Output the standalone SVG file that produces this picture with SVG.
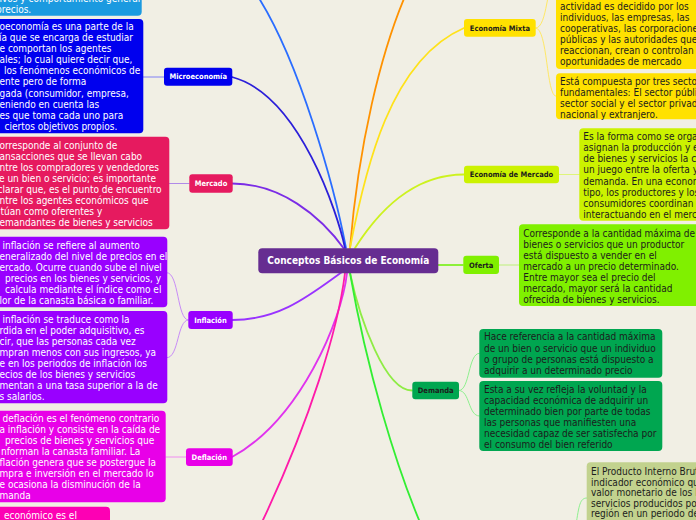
<svg xmlns="http://www.w3.org/2000/svg" width="696" height="520" viewBox="0 0 696 520">
<style>
.t{font-family:"DejaVu Sans Condensed","DejaVu Sans",sans-serif;font-stretch:condensed;font-size:10px}
.w{fill:#ffffff}
.d{fill:#1c1c1c}
.lb{font-family:"DejaVu Sans Condensed","DejaVu Sans",sans-serif;font-stretch:condensed;font-weight:bold;font-size:7.5px;text-anchor:middle}
.ct{font-family:"DejaVu Sans Condensed","DejaVu Sans",sans-serif;font-stretch:condensed;font-weight:bold;font-size:10px;text-anchor:middle;fill:#ffffff}
.c{fill:none;stroke-linecap:round}
.m{stroke-width:1.8}
.s{stroke-width:1}
</style>
<rect x="0" y="0" width="696" height="520" fill="#f1efe4"/>
<g id="connectors">
<path class="c m" stroke="#2a6dff" d="M346,248 C335,190 300,60 255,-8"/>
<path class="c m" stroke="#2b1fd9" d="M345,248 C338,215 300,95 232,77"/>
<path class="c m" stroke="#7b2ce6" d="M345,250 C320,215 280,183.5 232,183.5"/>
<path class="c m" stroke="#9933ff" d="M342,272 C310,295 280,320 232,320"/>
<path class="c m" stroke="#e033ee" d="M347,273 C342,320 300,420 232,457"/>
<path class="c m" stroke="#ff1aa9" d="M345,273 C338,330 310,420 263,520 L257,533"/>
<path class="c m" stroke="#ff9200" d="M350,248 C358,150 380,50 410,-15"/>
<path class="c m" stroke="#ffe21a" d="M350,248 C365,170 390,60 464,28"/>
<path class="c m" stroke="#cdf21f" d="M355,248 C378,212 412,174.5 464,174.5"/>
<path class="c m" stroke="#8df03a" d="M400,265 L463,265"/>
<path class="c m" stroke="#8fec45" d="M350,273 C360,320 385,390.5 412,390.5"/>
<path class="c m" stroke="#33ee33" d="M350,273 C365,360 395,470 430,545"/>
<path class="c s" stroke="#8080f5" d="M164,77 L143,77"/>
<path class="c s" stroke="#b08ae8" d="M189,183.5 L169,183.5"/>
<path class="c s" stroke="#c88cf7" d="M188.3,320 C177,320 179,272.7 167,272.7"/>
<path class="c s" stroke="#c88cf7" d="M188.3,320 C177,320 179,357.7 167,357.7"/>
<path class="c s" stroke="#f08cf0" d="M186,457 L165.7,457"/>
<path class="c s" stroke="#ffe866" d="M535.7,28 C548,28 546,-20 556,-20"/>
<path class="c s" stroke="#ffe866" d="M535.7,28 C548,28 546,96.3 556,96.3"/>
<path class="c s" stroke="#dff57a" d="M559,174.5 L579.3,174.5"/>
<path class="c s" stroke="#bdf07a" d="M499,265 L519,265"/>
<path class="c s" stroke="#8ef08e" d="M459,390.5 C470,390.5 468,353.3 479.3,353.3"/>
<path class="c s" stroke="#8ef08e" d="M459,390.5 C470,390.5 468,416 479.3,416"/>
<path class="c s" stroke="#8ef08e" d="M576,525 C579,505 580,498 586.7,498"/>
</g>
<g id="center">
<rect x="258.3" y="248.3" width="180" height="25" rx="4" fill="#662d91"/>
<text class="ct" x="348.3" y="264.3">Conceptos Básicos de Economía</text>
</g>
<g id="macro-detail">
<rect x="-10" y="-40" width="151.7" height="55.7" rx="4" fill="#1b9ae0"/>
<text class="t w" x="-0.5" y="1.5">ivos y comportamiento general</text>
<text class="t w" x="-4" y="12.5">precios.</text>
</g>
<g id="micro">
<rect x="164" y="67.7" width="68.3" height="18" rx="3" fill="#0000ee"/>
<text class="lb w" x="198.2" y="79.4">Microeconomía</text>
</g>
<g id="micro-detail">
<rect x="-10" y="19" width="153.3" height="114.3" rx="4" fill="#0000ee"/>
<text class="t w" x="-0.5" y="30.2">oeconomía es una parte de la</text>
<text class="t w" x="-1" y="41.25">ía que se encarga de estudiar</text>
<text class="t w" x="-0.5" y="52.3">e comportan los agentes</text>
<text class="t w" x="-0.5" y="63.35">ales; lo cual quiere decir que,</text>
<text class="t w" x="4" y="74.4">los fenómenos económicos de</text>
<text class="t w" x="-0.5" y="85.45">ente pero de forma</text>
<text class="t w" x="-0.5" y="96.5">gada (consumidor, empresa,</text>
<text class="t w" x="-0.5" y="107.55">eniendo en cuenta las</text>
<text class="t w" x="-0.5" y="118.6">es que toma cada uno para</text>
<text class="t w" x="4.5" y="129.65">ciertos objetivos propios.</text>
</g>
<g id="mercado">
<rect x="189.3" y="174.3" width="43.4" height="18.4" rx="3" fill="#e61a5f"/>
<text class="lb w" x="211" y="186.2">Mercado</text>
</g>
<g id="mercado-detail">
<rect x="-10" y="136.7" width="179.3" height="92.6" rx="4" fill="#e61a5f"/>
<text class="t w" x="-0.5" y="148.5">orresponde al conjunto de</text>
<text class="t w" x="-0.5" y="159.5">ansacciones que se llevan cabo</text>
<text class="t w" x="-0.5" y="170.5">ntre los compradores y vendedores</text>
<text class="t w" x="-1" y="181.5">e un bien o servicio; es importante</text>
<text class="t w" x="-2.5" y="192.5">clarar que, es el punto de encuentro</text>
<text class="t w" x="-0.5" y="203.5">ntre los agentes económicos que</text>
<text class="t w" x="0.5" y="214.5">túan como oferentes y</text>
<text class="t w" x="-0.5" y="225.5">emandantes de bienes y servicios</text>
</g>
<g id="inflacion">
<rect x="188.3" y="311" width="44.4" height="18" rx="3" fill="#9900ff"/>
<text class="lb w" x="210.5" y="322.7">Inflación</text>
</g>
<g id="inflacion-detail-1">
<rect x="-10" y="236.7" width="177.3" height="70.6" rx="4" fill="#9900ff"/>
<text class="t w" x="2.5" y="248.5">inflación se refiere al aumento</text>
<text class="t w" x="-0.5" y="259.5">eneralizado del nivel de precios en el</text>
<text class="t w" x="-0.5" y="270.5">ercado. Ocurre cuando sube el nivel</text>
<text class="t w" x="5" y="281.5">precios en los bienes y servicios, y</text>
<text class="t w" x="5" y="292.5">calcula mediante el índice como el</text>
<text class="t w" x="-0.5" y="303.5">lor de la canasta básica o familiar.</text>
</g>
<g id="inflacion-detail-2">
<rect x="-10" y="311" width="177.3" height="92.3" rx="4" fill="#9900ff"/>
<text class="t w" x="2.5" y="322.8">inflación se traduce como la</text>
<text class="t w" x="-0.5" y="333.76">rdida en el poder adquisitivo, es</text>
<text class="t w" x="-0.5" y="344.72">cir, que las personas cada vez</text>
<text class="t w" x="-0.5" y="355.68">mpran menos con sus ingresos, ya</text>
<text class="t w" x="-0.5" y="366.64">e en los periodos de inflación los</text>
<text class="t w" x="-0.5" y="377.6">ecios de los bienes y servicios</text>
<text class="t w" x="-0.5" y="388.56">mentan a una tasa superior a la de</text>
<text class="t w" x="-0.5" y="399.52">s salarios.</text>
</g>
<g id="deflacion">
<rect x="186" y="448.3" width="46.7" height="17.7" rx="3" fill="#e800e8"/>
<text class="lb w" x="209.3" y="459.8">Deflación</text>
</g>
<g id="deflacion-detail">
<rect x="-10" y="410.7" width="175.7" height="91.6" rx="4" fill="#e800e8"/>
<text class="t w" x="2.5" y="421.8">deflación es el fenómeno contrario</text>
<text class="t w" x="-0.5" y="432.86">a inflación y consiste en la caída de</text>
<text class="t w" x="5" y="443.92">precios de bienes y servicios que</text>
<text class="t w" x="1" y="454.98">nforman la canasta familiar. La</text>
<text class="t w" x="-0.5" y="466.04">flación genera que se postergue la</text>
<text class="t w" x="-0.5" y="477.1">mpra e inversión en el mercado lo</text>
<text class="t w" x="-0.5" y="488.16">e ocasiona la disminución de la</text>
<text class="t w" x="-0.5" y="499.22">manda</text>
</g>
<g id="crecimiento-detail">
<rect x="-10" y="506.7" width="120" height="30" rx="4" fill="#fd00b4"/>
<text class="t w" x="4" y="518.5">económico es el</text>
</g>
<g id="mixta">
<rect x="464" y="19" width="71.7" height="17.7" rx="3" fill="#ffe100"/>
<text class="lb d" x="499.9" y="30.5">Economía Mixta</text>
</g>
<g id="mixta-detail-1">
<rect x="556" y="-40" width="160" height="109" rx="4" fill="#ffe100"/>
<text class="t d" x="560" y="10.2">actividad es decidido por los</text>
<text class="t d" x="560" y="21.2">individuos, las empresas, las</text>
<text class="t d" x="560" y="32.2">cooperativas, las corporaciones</text>
<text class="t d" x="560" y="43.2">públicas y las autoridades que</text>
<text class="t d" x="560" y="54.2">reaccionan, crean o controlan</text>
<text class="t d" x="560" y="65.2">oportunidades de mercado</text>
</g>
<g id="mixta-detail-2">
<rect x="556" y="73.3" width="160" height="46" rx="4" fill="#ffe100"/>
<text class="t d" x="560" y="84.5">Está compuesta por tres sectores</text>
<text class="t d" x="560" y="95.5">fundamentales: El sector público,</text>
<text class="t d" x="560" y="106.5">sector social y el sector privado</text>
<text class="t d" x="560" y="117.5">nacional y extranjero.</text>
</g>
<g id="economia-mercado">
<rect x="464" y="165.7" width="95" height="17.6" rx="3" fill="#ccf200"/>
<text class="lb d" x="511.5" y="177.2">Economía de Mercado</text>
</g>
<g id="economia-mercado-detail">
<rect x="579.3" y="128.3" width="140" height="92.4" rx="4" fill="#ccf200"/>
<text class="t d" x="583.3" y="140.2">Es la forma como se organizan</text>
<text class="t d" x="583.3" y="151.29">asignan la producción y el</text>
<text class="t d" x="583.3" y="162.38">de bienes y servicios la c</text>
<text class="t d" x="583.3" y="173.47">un juego entre la oferta y</text>
<text class="t d" x="583.3" y="184.56">demanda. En una economía</text>
<text class="t d" x="583.3" y="195.65">tipo, los productores y los</text>
<text class="t d" x="583.3" y="206.74">consumidores coordinan</text>
<text class="t d" x="583.3" y="217.83">interactuando en el mercado</text>
</g>
<g id="oferta">
<rect x="463.3" y="255.7" width="35.7" height="18.3" rx="3" fill="#80f000"/>
<text class="lb d" x="481.2" y="267.5">Oferta</text>
</g>
<g id="oferta-detail">
<rect x="519" y="224.3" width="190" height="81.7" rx="4" fill="#80f000"/>
<text class="t d" x="523.3" y="236.8">Corresponde a la cantidad máxima de</text>
<text class="t d" x="523.3" y="247.8">bienes o servicios que un productor</text>
<text class="t d" x="523.3" y="258.8">está dispuesto a vender en el</text>
<text class="t d" x="523.3" y="269.8">mercado a un precio determinado.</text>
<text class="t d" x="523.3" y="280.8">Entre mayor sea el precio del</text>
<text class="t d" x="523.3" y="291.8">mercado, mayor será la cantidad</text>
<text class="t d" x="523.3" y="302.8">ofrecida de bienes y servicios.</text>
</g>
<g id="demanda">
<rect x="412.3" y="381.7" width="46.7" height="17.6" rx="3" fill="#00a650"/>
<text class="lb d" x="435.7" y="393.2">Demanda</text>
</g>
<g id="demanda-detail-1">
<rect x="479.3" y="329" width="183" height="48.7" rx="4" fill="#00a650"/>
<text class="t d" x="484" y="340.2">Hace referencia a la cantidad máxima</text>
<text class="t d" x="484" y="351.5">de un bien o servicio que un individuo</text>
<text class="t d" x="484" y="362.8">o grupo de personas está dispuesto a</text>
<text class="t d" x="484" y="374.1">adquirir a un determinado precio</text>
</g>
<g id="demanda-detail-2">
<rect x="479.3" y="381" width="183" height="70" rx="4" fill="#00a650"/>
<text class="t d" x="484" y="392.8">Esta a su vez refleja la voluntad y la</text>
<text class="t d" x="484" y="403.8">capacidad económica de adquirir un</text>
<text class="t d" x="484" y="414.8">determinado bien por parte de todas</text>
<text class="t d" x="484" y="425.8">las personas que manifiesten una</text>
<text class="t d" x="484" y="436.8">necesidad capaz de ser satisfecha por</text>
<text class="t d" x="484" y="447.8">el consumo del bien referido</text>
</g>
<g id="pib-detail">
<rect x="586.7" y="462.3" width="130" height="80" rx="4" fill="#c2d28e"/>
<text class="t d" x="591" y="475.2">El Producto Interno Bruto</text>
<text class="t d" x="591" y="485.7">indicador económico que</text>
<text class="t d" x="591" y="496.2">valor monetario de los bienes</text>
<text class="t d" x="591" y="506.7">servicios producidos por</text>
<text class="t d" x="591" y="517.2">región en un periodo de</text>
</g>
</svg>
